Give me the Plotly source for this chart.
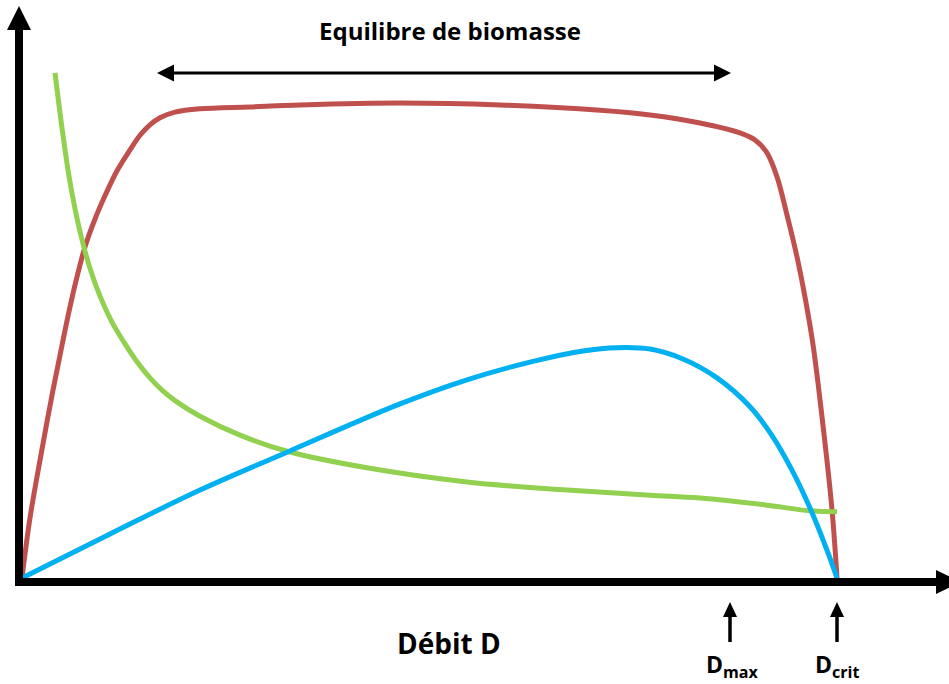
import plotly.graph_objects as go

# ---- data (D normalised so that D_crit = 1) ----
red_D = [0.0, 0.0098, 0.0221, 0.038, 0.0528, 0.065, 0.0773, 0.0896, 0.1018, 0.1166, 0.1325,
         0.1448, 0.157, 0.1693, 0.1877, 0.2184, 0.2798, 0.3411, 0.4638, 0.5865, 0.7092,
         0.7706, 0.8319, 0.881, 0.8994, 0.9141, 0.9264, 0.9387, 0.9509, 0.9607, 0.9706,
         0.9828, 0.9939, 1.0]
red_y = [0.0, 0.127, 0.249, 0.397, 0.524, 0.619, 0.700, 0.759, 0.808, 0.861, 0.905,
         0.936, 0.958, 0.973, 0.985, 0.992, 0.996, 1.000, 1.004, 1.000, 0.989,
         0.979, 0.962, 0.941, 0.926, 0.899, 0.848, 0.767, 0.679, 0.594, 0.493,
         0.323, 0.144, 0.0]

green_D = [0.0405, 0.0491, 0.0589, 0.0712, 0.0834, 0.0957, 0.1104, 0.1264, 0.1411, 0.157,
           0.1718, 0.1877, 0.2184, 0.2675, 0.3252, 0.4233, 0.546, 0.6687, 0.7706, 0.8319,
           0.9141, 0.9669, 1.0]
green_y = [1.068, 0.951, 0.837, 0.732, 0.655, 0.596, 0.541, 0.495, 0.457, 0.423,
           0.397, 0.375, 0.342, 0.302, 0.268, 0.233, 0.203, 0.186, 0.175, 0.169,
           0.154, 0.142, 0.140]

blue_D = [0.0, 0.108, 0.2184, 0.3252, 0.4638, 0.546, 0.627, 0.6883, 0.73, 0.7706, 0.811,
          0.8528, 0.8933, 0.9215, 0.946, 0.9669, 0.9877, 1.0]
blue_y = [0.0, 0.093, 0.186, 0.266, 0.368, 0.419, 0.458, 0.480, 0.487, 0.484, 0.463,
          0.423, 0.362, 0.298, 0.224, 0.148, 0.059, 0.0]

title_text = "Equilibre de biomasse"
xlabel_text = "Débit D"
dmax_text = "D<sub>max</sub>"
dcrit_text = "D<sub>crit</sub>"

# ---- pixel <-> data helpers (layout only) ----
W, H = 949, 684
X0, XS, Y0, YS = 22, 815, 578, 473
def dx(px):
    return (px - X0) / XS
def dy(py):
    return (Y0 - py) / YS

FONT = "Open Sans"

fig = go.Figure()
fig.add_trace(go.Scatter(x=red_D, y=red_y, mode="lines",
                         line=dict(color="#C0504D", width=5, shape="spline", smoothing=1.0)))
fig.add_trace(go.Scatter(x=green_D, y=green_y, mode="lines",
                         line=dict(color="#92D050", width=5, shape="spline", smoothing=1.0)))
fig.add_trace(go.Scatter(x=blue_D, y=blue_y, mode="lines",
                         line=dict(color="#00B0F0", width=5, shape="spline", smoothing=1.0)))

shapes = []
def line(x0, y0, x1, y1, w):
    shapes.append(dict(type="line", xref="x", yref="y", x0=dx(x0), y0=dy(y0), x1=dx(x1), y1=dy(y1),
                       line=dict(color="black", width=w), layer="above"))
def tri(p):
    path = "M " + " L ".join(f"{dx(a)},{dy(b)}" for a, b in p) + " Z"
    shapes.append(dict(type="path", xref="x", yref="y", path=path, fillcolor="black",
                       line=dict(width=0), layer="above"))

# axes
line(19, 586, 19, 26, 8)
tri([(7, 30), (31, 30), (19, 6)])
line(15, 582, 940, 582, 8)
tri([(936, 570), (936, 594), (961, 582)])
# double arrow
line(170, 73, 716, 73, 3)
tri([(157, 73), (174, 64.5), (174, 81.5)])
tri([(731, 73), (714, 64.5), (714, 81.5)])
# D markers
for xp in (730, 837):
    line(xp, 642, xp, 614, 3.5)
    tri([(xp - 7, 617), (xp + 7, 617), (xp, 602)])

annotations = [
    dict(text=f"<b>{title_text}</b>", x=dx(450), y=dy(30), xref="x", yref="y", showarrow=False,
         font=dict(family=FONT, size=24, color="black")),
    dict(text=f"<b>{xlabel_text}</b>", x=dx(449), y=dy(643), xref="x", yref="y", showarrow=False,
         font=dict(family=FONT, size=28, color="black")),
    dict(text=f"<b>{dmax_text}</b>", x=dx(732), y=dy(665), xref="x", yref="y", showarrow=False,
         font=dict(family=FONT, size=23, color="black")),
    dict(text=f"<b>{dcrit_text}</b>", x=dx(837), y=dy(665), xref="x", yref="y", showarrow=False,
         font=dict(family=FONT, size=23, color="black")),
]

fig.update_layout(
    width=W, height=H, margin=dict(l=0, r=0, t=0, b=0),
    paper_bgcolor="white", plot_bgcolor="white", showlegend=False,
    xaxis=dict(range=[dx(0), dx(W)], visible=False, fixedrange=True),
    yaxis=dict(range=[dy(H), dy(0)], visible=False, fixedrange=True),
    shapes=shapes, annotations=annotations,
)
fig.write_html("out.html", config={"displayModeBar": False},
               post_script="document.body.style.margin='0';document.body.style.overflow='hidden';")
